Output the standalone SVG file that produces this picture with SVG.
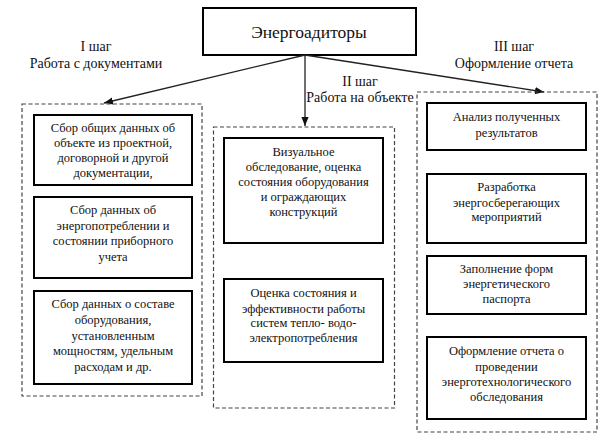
<svg xmlns="http://www.w3.org/2000/svg" width="611" height="446" viewBox="0 0 611 446">
<style>
text{font-family:"Liberation Serif","DejaVu Serif",serif;fill:#111;text-anchor:middle}
.t{font-size:12.5px}
.l{font-size:14px}
.b{fill:#fff;stroke:#000;stroke-width:2}
.d{fill:none;stroke:#444;stroke-width:1.2;stroke-dasharray:4 2.5}
.c{stroke:#222;stroke-width:1.3;fill:none}
</style>
<defs>
<marker id="ah" viewBox="0 0 10 10" refX="10" refY="5" markerWidth="9" markerHeight="9" markerUnits="userSpaceOnUse" orient="auto">
<path d="M0,1 L10,5 L0,9 z" fill="#111"/>
</marker>
</defs>
<g id="root">
<rect class="b" x="203" y="8" width="213" height="47"/>
<text x="309" y="38" style="font-size:17.5px">Энергоадиторы</text>
</g>
<g id="connectors">
<line class="c" x1="305" y1="55" x2="104" y2="103" marker-end="url(#ah)"/>
<line class="c" x1="305" y1="55" x2="305" y2="126" marker-end="url(#ah)"/>
<line class="c" x1="305" y1="55" x2="544" y2="92" marker-end="url(#ah)"/>
</g>
<g id="labels">
<text class="l" x="96" y="51">I шаг</text>
<text class="l" x="96" y="68">Работа с документами</text>
<text class="l" x="360" y="86">II шаг</text>
<text class="l" x="360" y="102">Работа на объекте</text>
<text class="l" x="514" y="51">III шаг</text>
<text class="l" x="514" y="68">Оформление отчета</text>
</g>
<g id="step1">
<rect class="d" x="22" y="104" width="180" height="292"/>
<g id="s1a"><rect class="b" x="34" y="115" width="158" height="70"/>
<text class="t" x="113" y="132">Сбор общих данных об</text>
<text class="t" x="113" y="147">объекте из проектной,</text>
<text class="t" x="113" y="162">договорной и другой</text>
<text class="t" x="113" y="177">документации,</text></g>
<g id="s1b"><rect class="b" x="34" y="197" width="158" height="81"/>
<text class="t" x="113" y="214">Сбор данных об</text>
<text class="t" x="113" y="229.5">энергопотреблении и</text>
<text class="t" x="113" y="245">состоянии приборного</text>
<text class="t" x="113" y="260.5">учета</text></g>
<g id="s1c"><rect class="b" x="34" y="291" width="158" height="93"/>
<text class="t" x="113" y="308">Сбор данных о составе</text>
<text class="t" x="113" y="324">оборудования,</text>
<text class="t" x="113" y="339.5">установленным</text>
<text class="t" x="113" y="355">мощностям, удельным</text>
<text class="t" x="113" y="371">расходам и др.</text></g>
</g>
<g id="step2">
<rect class="d" x="213.5" y="127" width="181" height="281"/>
<g id="s2a"><rect class="b" x="224" y="138" width="159" height="105"/>
<text class="t" x="303.5" y="156">Визуальное</text>
<text class="t" x="303.5" y="171">обследование, оценка</text>
<text class="t" x="303.5" y="186">состояния оборудования</text>
<text class="t" x="303.5" y="201">и ограждающих</text>
<text class="t" x="303.5" y="216">конструкций</text></g>
<g id="s2b"><rect class="b" x="224" y="279" width="159" height="83"/>
<text class="t" x="303.5" y="297">Оценка состояния и</text>
<text class="t" x="303.5" y="312.5">эффективности работы</text>
<text class="t" x="303.5" y="327">систем тепло- водо-</text>
<text class="t" x="303.5" y="342">электропотребления</text></g>
</g>
<g id="step3">
<rect class="d" x="417" y="92" width="180" height="340"/>
<g id="s3a"><rect class="b" x="427" y="103" width="159" height="47"/>
<text class="t" x="506.5" y="121">Анализ полученных</text>
<text class="t" x="506.5" y="137">результатов</text></g>
<g id="s3b"><rect class="b" x="427" y="174" width="159" height="69"/>
<text class="t" x="506.5" y="191">Разработка</text>
<text class="t" x="506.5" y="206.5">энергосберегающих</text>
<text class="t" x="506.5" y="221">мероприятий</text></g>
<g id="s3c"><rect class="b" x="427" y="256" width="159" height="58"/>
<text class="t" x="506.5" y="273">Заполнение форм</text>
<text class="t" x="506.5" y="288">энергетического</text>
<text class="t" x="506.5" y="303">паспорта</text></g>
<g id="s3d"><rect class="b" x="427" y="337" width="159" height="82"/>
<text class="t" x="506.5" y="355">Оформление отчета о</text>
<text class="t" x="506.5" y="371">проведении</text>
<text class="t" x="506.5" y="386">энерготехнологического</text>
<text class="t" x="506.5" y="401">обследования</text></g>
</g>
</svg>
